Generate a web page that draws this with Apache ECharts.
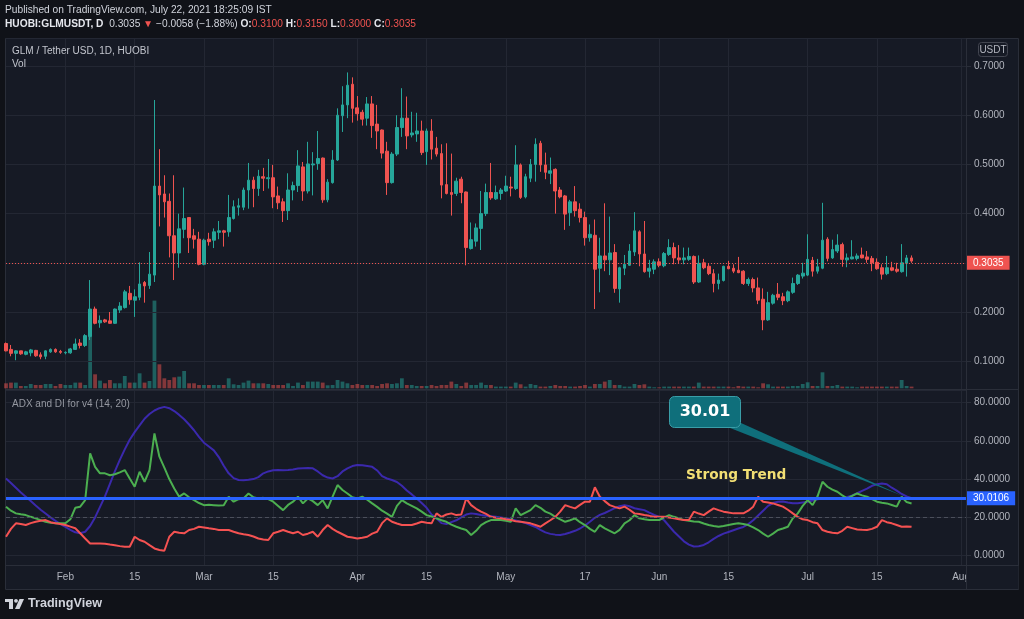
<!DOCTYPE html>
<html><head><meta charset="utf-8">
<script src="https://cdn.jsdelivr.net/npm/echarts@6/dist/echarts.min.js"></script>
<style>html,body{margin:0;padding:0;background:#101218;}#c{width:1024px;height:619px;}</style>
</head><body><div id="c"></div>
<script>
// ---------- data ----------
const firstDay = [2021, 0, 20];          // 2021-01-20
const categoryCount = 195;               // Jan 20 .. Aug 2
const xTickLabels = {
  '2021-02-01':'Feb','2021-02-15':'15','2021-03-01':'Mar','2021-03-15':'15',
  '2021-04-01':'Apr','2021-04-15':'15','2021-05-01':'May','2021-05-17':'17',
  '2021-06-01':'Jun','2021-06-15':'15','2021-07-01':'Jul','2021-07-15':'15','2021-08-01':'Aug'
};
const opens = [
0.136,0.124,0.116,0.121,0.114,0.117,0.122,0.113,0.110,0.119,
0.124,0.120,0.117,0.117,0.124,0.137,0.132,0.150,0.206,0.178,
0.184,0.182,0.177,0.204,0.209,0.238,0.224,0.230,0.260,0.254,
0.275,0.456,0.440,0.425,0.355,0.320,0.368,0.392,0.355,0.348,
0.297,0.348,0.346,0.362,0.365,0.363,0.390,0.413,0.413,0.448,
0.468,0.451,0.475,0.471,0.473,0.436,0.424,0.406,0.448,0.457,
0.495,0.446,0.499,0.502,0.513,0.428,0.463,0.509,0.599,0.621,
0.663,0.615,0.606,0.594,0.623,0.582,0.570,0.527,0.463,0.521,
0.575,0.594,0.560,0.562,0.568,0.526,0.568,0.533,0.522,0.459,
0.443,0.441,0.470,0.444,0.329,0.344,0.370,0.400,0.443,0.430,
0.441,0.446,0.454,0.451,0.499,0.434,0.472,0.500,0.543,0.499,
0.482,0.490,0.448,0.436,0.402,0.424,0.409,0.392,0.351,0.356,
0.289,0.314,0.306,0.321,0.247,0.289,0.295,0.322,0.363,0.318,
0.283,0.287,0.302,0.294,0.317,0.331,0.310,0.306,0.307,0.313,
0.261,0.300,0.293,0.278,0.258,0.264,0.293,0.289,0.285,0.283,
0.258,0.266,0.249,0.226,0.184,0.218,0.236,0.231,0.223,0.240,
0.258,0.273,0.275,0.305,0.283,0.289,0.348,0.310,0.324,0.337,
0.306,0.308,0.309,0.316,0.312,0.309,0.301,0.290,0.278,0.290,
0.287,0.282,0.299,0.310];
const highs = [
0.138,0.133,0.122,0.121,0.121,0.125,0.123,0.118,0.122,0.126,
0.126,0.123,0.120,0.127,0.146,0.145,0.155,0.265,0.211,0.193,
0.186,0.200,0.207,0.220,0.245,0.253,0.246,0.301,0.263,0.322,
0.631,0.531,0.478,0.441,0.478,0.400,0.453,0.393,0.369,0.363,
0.349,0.361,0.370,0.385,0.367,0.438,0.427,0.431,0.453,0.503,
0.475,0.489,0.493,0.511,0.499,0.455,0.431,0.482,0.465,0.529,
0.505,0.546,0.525,0.568,0.514,0.470,0.529,0.614,0.659,0.687,
0.677,0.639,0.611,0.637,0.639,0.621,0.571,0.546,0.525,0.600,
0.655,0.638,0.607,0.605,0.589,0.573,0.592,0.556,0.541,0.543,
0.522,0.473,0.475,0.445,0.382,0.380,0.446,0.461,0.503,0.457,
0.452,0.477,0.475,0.539,0.502,0.481,0.511,0.553,0.548,0.524,
0.514,0.492,0.454,0.438,0.428,0.456,0.421,0.404,0.378,0.388,
0.351,0.421,0.394,0.338,0.292,0.316,0.338,0.403,0.366,0.385,
0.306,0.307,0.309,0.322,0.348,0.341,0.336,0.331,0.331,0.315,
0.315,0.308,0.299,0.287,0.278,0.294,0.304,0.297,0.312,0.285,
0.270,0.270,0.270,0.248,0.241,0.237,0.259,0.239,0.244,0.270,
0.277,0.300,0.358,0.312,0.308,0.422,0.352,0.347,0.358,0.341,
0.319,0.346,0.319,0.331,0.324,0.314,0.309,0.297,0.314,0.302,
0.300,0.338,0.316,0.315];
const lows = [
0.120,0.110,0.102,0.113,0.112,0.110,0.109,0.104,0.104,0.117,
0.117,0.115,0.114,0.115,0.123,0.126,0.129,0.143,0.175,0.168,
0.178,0.176,0.176,0.198,0.207,0.215,0.190,0.224,0.219,0.247,
0.261,0.374,0.392,0.311,0.265,0.290,0.350,0.320,0.329,0.295,
0.295,0.335,0.330,0.348,0.333,0.353,0.388,0.396,0.407,0.410,
0.413,0.436,0.446,0.451,0.411,0.409,0.383,0.387,0.427,0.444,
0.426,0.441,0.437,0.489,0.422,0.423,0.461,0.507,0.566,0.594,
0.585,0.589,0.579,0.579,0.554,0.531,0.512,0.438,0.461,0.517,
0.556,0.531,0.555,0.546,0.519,0.499,0.510,0.516,0.431,0.439,
0.396,0.436,0.421,0.295,0.327,0.333,0.326,0.395,0.428,0.428,
0.428,0.444,0.435,0.448,0.430,0.431,0.464,0.465,0.485,0.470,
0.460,0.400,0.431,0.367,0.375,0.394,0.382,0.335,0.343,0.206,
0.240,0.283,0.275,0.239,0.219,0.275,0.294,0.314,0.293,0.280,
0.270,0.277,0.291,0.291,0.314,0.297,0.299,0.297,0.304,0.257,
0.259,0.287,0.275,0.240,0.246,0.262,0.287,0.279,0.279,0.255,
0.253,0.240,0.216,0.163,0.182,0.215,0.224,0.214,0.220,0.237,
0.255,0.268,0.273,0.272,0.278,0.287,0.303,0.308,0.320,0.292,
0.291,0.307,0.305,0.309,0.300,0.283,0.286,0.266,0.275,0.283,
0.280,0.280,0.272,0.300];
const closes = [
0.121,0.116,0.121,0.115,0.119,0.123,0.111,0.109,0.121,0.124,
0.119,0.118,0.118,0.125,0.135,0.132,0.152,0.206,0.177,0.183,
0.180,0.177,0.206,0.212,0.241,0.225,0.231,0.257,0.253,0.277,
0.456,0.438,0.424,0.355,0.320,0.369,0.390,0.351,0.348,0.297,
0.346,0.343,0.363,0.365,0.362,0.392,0.414,0.416,0.448,0.468,
0.451,0.476,0.472,0.473,0.434,0.422,0.406,0.448,0.457,0.497,
0.446,0.501,0.501,0.512,0.428,0.464,0.509,0.600,0.621,0.661,
0.614,0.603,0.592,0.623,0.579,0.568,0.523,0.463,0.521,0.575,
0.594,0.558,0.564,0.568,0.524,0.568,0.531,0.521,0.458,0.441,
0.439,0.466,0.443,0.331,0.347,0.371,0.400,0.443,0.432,0.443,
0.448,0.456,0.452,0.499,0.433,0.475,0.500,0.541,0.499,0.484,
0.487,0.446,0.434,0.399,0.424,0.406,0.392,0.351,0.358,0.287,
0.314,0.306,0.320,0.248,0.290,0.297,0.324,0.365,0.318,0.282,
0.289,0.302,0.295,0.319,0.331,0.310,0.306,0.310,0.313,0.261,
0.299,0.290,0.278,0.258,0.265,0.293,0.288,0.283,0.280,0.258,
0.266,0.249,0.224,0.184,0.219,0.234,0.230,0.223,0.241,0.258,
0.275,0.279,0.307,0.283,0.292,0.346,0.309,0.327,0.336,0.307,
0.310,0.312,0.314,0.310,0.307,0.300,0.288,0.277,0.290,0.285,
0.283,0.300,0.310,0.3035];
const volumes = [
5,5.7,5.7,2.3,2.3,4.3,3.3,3.3,4.3,4.3,
2.3,4.3,3.3,3.3,5.7,5.7,3.3,51.7,14,7.7,
5,8.3,5,5,12.3,5.7,5.7,15,5.7,7.3,
87.7,24,10,8.3,11,11.7,17.3,5,5,3.3,
3.3,3.3,3.3,3.3,3.3,10,4,3.3,5.7,7.7,
5,5,5,4.3,3.3,3.3,3.3,5,2.3,5.7,
3.3,6.7,6.7,6.7,5.7,3,3.3,8.3,6.7,5,
3.3,4.3,3.3,3.3,3.3,2.3,4.3,5,4.3,5,
10,3.3,3.3,2.3,2.3,2.3,3.3,2.3,3.3,3.3,
6.7,4.3,2.3,5.7,3.3,3.3,5.7,3.3,3.3,1.7,
1.7,1.7,1.7,5.7,4,1.7,4.3,3.3,1.7,1.7,
2.3,3.3,2.3,2.3,1.7,1.7,2.3,3.3,1.7,4.3,
4.3,6.7,8.3,3.3,3.3,1.7,1.7,4.3,3.3,4,
1.7,1,1,1.7,1.7,1.7,1.7,1.7,1.7,1.7,
5.7,1.7,1.7,1.7,1.7,1.7,1.7,1,2.3,1.7,
1.7,1.7,1,5,4,1.7,1.7,1.7,1.7,2.3,
2.3,4.3,6,2.3,2.3,16,2.3,2.3,3.3,1.7,
1.7,1.7,1,1.7,1.7,1.7,1.7,1.7,1.7,1.7,
1.7,8.3,2.3,1.7];
const adx = [
40.3,38,35.5,33,30.8,28.5,26.2,24,22,20,
18.2,16.5,15,13.5,12.2,11.7,12.5,15.5,20,25.5,
31,37.5,44,50,55.5,60.5,64.5,68,71.5,74,
75.8,77,77.7,77,75.5,73.5,71.2,68.5,65.5,62,
59,57,55,51.5,47,43,40.5,39.5,39.4,39.6,
40,41,43,44,44.6,44.7,44.6,44.7,45,45.5,
45.7,45.8,45.6,44,42,40.8,40.3,41.5,44,45.6,
46.8,47.3,47.2,46.8,46.4,44.5,41.5,40.3,39.5,38.5,
36.5,34,32,29.8,27.5,25,21.5,19.5,17,16.5,
17.5,18.5,20,21.5,22.1,21.8,21.3,20.9,20.6,20.3,
20,19.5,19,18.4,17.7,17,16,15,13.5,12.2,
11.4,11,10.8,11.3,12.1,13,14.2,15.8,17.7,19.8,
21.3,22.3,23.5,24.8,25.8,26.4,25.8,24.8,24.3,23.8,
22.5,21.3,20.3,18.5,15.5,12.5,10,7.5,5.8,4.8,
4.9,5.6,7,8.8,10.3,11.5,12.4,13.3,14.2,15,
16.5,18.5,21,23.5,26,27.5,28.2,28.3,27.8,27.4,
27.4,27.8,28.2,28.8,29.4,29.9,29.9,29.8,29.9,30.2,
30.7,31.5,32.6,33.8,35,36.5,37.3,37.7,37.3,35.5,
34,32.2,31,30.01];
const plusDI = [
25.6,23.5,22.1,21.6,21.2,20.3,19.5,18.6,17.7,17.2,
16.9,16.9,16.9,19,25,25.6,29,53.4,46.4,43,
43,42,42.5,43.5,44.7,40.3,36,43.8,38.6,44.7,
63.8,51.7,46,40,35.1,30.8,32.5,30.5,29,27.5,
26.4,26.6,26.4,26.2,26.4,30.8,28.2,29.5,29.9,32.5,
30.5,29.9,30.2,29.6,28.2,26,23.8,26.5,28.2,30.8,
27.3,29.9,28.5,26.4,29,24.7,30.8,36.9,34.3,32.5,
30.5,29.9,30.8,29.2,27.3,25.5,23.5,22,20.3,26,
29,27.3,26,24.7,23,21.2,20.5,19.5,18.5,17.7,
16.2,15.1,14.2,13.4,10.8,13,16,17.5,18.6,18.6,
18.6,18.2,17.7,24.7,21.2,22.5,23.8,26.4,25,23,
22,20.3,19,17.7,18.5,19.5,17.5,16,14,12.5,
16,14.3,13,11.7,13.5,16.9,18.5,21.2,19.5,19,
18.6,18.6,18.6,20,21.2,20.3,19.5,18.6,18.2,17.8,
17.7,16.8,16,15.5,15.1,15.5,16,16.5,16.9,16.5,
16,14.8,13.4,11.5,9.9,11.5,13.4,14.2,15.1,19.5,
22.1,26,29,26.4,31,38.6,36,34.5,33.4,31.5,
29.9,31.2,32.5,31.5,30.8,29.5,28.2,27.7,27.3,26.5,
25.6,30.8,28,27.3];
const minusDI = [
9.9,14,16.9,16.5,16,17,17.7,18.2,18.6,17.5,
16.9,16.5,16,15.2,14.3,11.7,9,6.4,6.4,6.4,
6.2,5.8,5.5,5,4.7,4.7,9.9,8.2,7.3,5.5,
3.8,3,2.6,9.9,12.5,12,11.7,13.4,14,15.1,
14.7,14.3,14,13.4,13.4,13.4,12.5,11.7,11.2,10.8,
10,9,8.5,8.2,11.7,12.5,13.4,12.5,11.7,12.5,
10.8,11.5,12.5,9.9,13.4,16,14,12.5,11.2,9.9,
9.5,9,9.4,9.9,11.5,12.5,17,19.5,17.7,16.8,
16,16,16,16.8,17.7,17.2,16.9,22.1,20.3,21.5,
22.1,21.2,21.5,29.9,26.4,24.5,23,21.8,20.3,19.8,
19.5,19,18.6,18,17.7,17.3,16.9,16,15.1,16.9,
18.5,20.3,23,26.4,25.5,24.7,26.5,28.2,28.2,35.7,
30.8,28.5,26.4,25.5,24.7,25.6,24,22.1,21.8,21.2,
20.8,20.3,20.3,20.3,20,19.5,19,18.6,18.6,23,
22,21.2,23,24.7,23.8,23,22.5,22.1,22.1,22.1,
23.5,25.6,30.8,28.2,27.8,27.3,26.5,25.6,24,22.1,
20.3,19,18.6,17.5,16.9,13.4,12.5,12,11.7,13,
15.1,14.4,13.7,13.5,13.4,14,15.1,18.6,17.5,16.9,
16,15.1,15.3,15.1];
const trendLevel = 30.0106;
const keyLevel = 20;
const calloutValue = 30.01;
const headerChange = -0.0058;
const headerChangePct = -1.88;

// ---------- build ----------
const categories = [];
for (let i = 0; i < categoryCount; i++) {
  const d = new Date(Date.UTC(firstDay[0], firstDay[1], firstDay[2]) + i * 86400000);
  categories.push(d.toISOString().slice(0, 10));
}
const n = closes.length;
const lastClose = closes[n - 1];
const candleData = opens.map((o, i) => [o, closes[i], lows[i], highs[i]]);
const volData = volumes.map((v, i) => ({
  value: v,
  itemStyle: { color: closes[i] >= opens[i] ? 'rgba(38,166,154,0.5)' : 'rgba(239,83,80,0.5)' }
}));

const F = "'Liberation Sans', Arial, sans-serif";
const GRID_C = '#232733';
const TXT = '#b2b5be';
const isTick = (idx, val) => Object.prototype.hasOwnProperty.call(xTickLabels, val);
const splitX = { show: true, interval: isTick, lineStyle: { color: GRID_C, width: 1 } };
const minus = x => (x < 0 ? '\u2212' : '+') + Math.abs(x);

function txt(x, y, text, font, fill, align) {
  return { type: 'text', z: 20, silent: true,
    style: { x: x, y: y, text: text, font: font, fill: fill,
      align: align || 'left', textAlign: align || 'left', verticalAlign: 'middle', textVerticalAlign: 'middle' } };
}

const header2 = '{b|HUOBI:GLMUSDT, D}  {n|' + lastClose.toFixed(4) + '} {r|\u25BC} {n|' +
  minus(headerChange).replace('+','') + ' (' + minus(headerChangePct) + '%)} ' +
  '{b|O:}{r|' + opens[n-1].toFixed(4) + '} {b|H:}{r|' + highs[n-1].toFixed(4) + '} ' +
  '{b|L:}{r|' + lows[n-1].toFixed(4) + '} {b|C:}{r|' + closes[n-1].toFixed(4) + '}';

const option = {
  backgroundColor: '#101218',
  animation: false,
  textStyle: { fontFamily: F },
  grid: [
    { left: 6, right: 58, top: 38, height: 351 },
    { left: 6, right: 58, top: 200, height: 188.3 },
    { left: 6, right: 58, top: 390, height: 175 }
  ],
  xAxis: [
    { type: 'category', gridIndex: 0, data: categories, boundaryGap: false,
      axisLine: { show: false }, axisTick: { show: false }, axisLabel: { show: false }, splitLine: splitX },
    { type: 'category', gridIndex: 1, data: categories, boundaryGap: false, show: false },
    { type: 'category', gridIndex: 2, data: categories, boundaryGap: false, z: 0,
      axisLine: { show: true, lineStyle: { color: '#2a2e39' } }, axisTick: { show: false },
      axisLabel: { interval: isTick, formatter: v => xTickLabels[v] || '', color: TXT, fontSize: 10, margin: 7, fontFamily: F },
      splitLine: splitX }
  ],
  yAxis: [
    { type: 'value', gridIndex: 0, position: 'right', min: 0.0435, max: 0.757, minInterval: 0.1, maxInterval: 0.1, z: 3,
      axisLine: { show: false }, axisTick: { show: true, length: 5, lineStyle: { color: '#2a2e39' } },
      axisLabel: { formatter: v => v.toFixed(4), color: TXT, fontSize: 10, margin: 8, showMinLabel: false, showMaxLabel: false, fontFamily: F },
      splitLine: { lineStyle: { color: GRID_C } } },
    { type: 'value', gridIndex: 1, min: 0, max: 188.3, show: false },
    { type: 'value', gridIndex: 2, position: 'right', min: -4.85, max: 86.5, minInterval: 20, maxInterval: 20, z: 3,
      axisLine: { show: false }, axisTick: { show: true, length: 5, lineStyle: { color: '#2a2e39' } },
      axisLabel: { formatter: v => v.toFixed(4), color: TXT, fontSize: 10, margin: 8, showMinLabel: false, showMaxLabel: false, fontFamily: F },
      splitLine: { lineStyle: { color: GRID_C } } }
  ],
  series: [
    { type: 'bar', xAxisIndex: 1, yAxisIndex: 1, data: volData, barWidth: 3.8, z: 1, silent: true },
    { type: 'candlestick', xAxisIndex: 0, yAxisIndex: 0, data: candleData, barWidth: 3.2, z: 3,
      itemStyle: { color: '#26a69a', color0: '#ef5350', borderColor: '#26a69a', borderColor0: '#ef5350', borderWidth: 1 },
      markLine: { symbol: ['none', 'none'], silent: true, animation: false,
        lineStyle: { color: '#ef5350', type: [1, 2], width: 1 },
        label: { show: true, position: 'end', distance: 1, formatter: lastClose.toFixed(4),
          backgroundColor: '#ef5350', color: '#ffffff', padding: [2, 6, 2, 6], fontSize: 10, lineHeight: 10, fontFamily: F },
        data: [{ yAxis: lastClose }] } },
    { type: 'line', xAxisIndex: 2, yAxisIndex: 2, data: adx, symbol: 'none', z: 3,
      lineStyle: { color: '#3b29ad', width: 2 }, itemStyle: { color: '#3b29ad' },
      markLine: { symbol: ['none', 'none'], silent: true, animation: false, label: { show: false },
        lineStyle: { color: '#4b4f5b', type: [4, 3], width: 1 }, data: [{ yAxis: keyLevel }] } },
    { type: 'line', xAxisIndex: 2, yAxisIndex: 2, data: plusDI, symbol: 'none', z: 3,
      lineStyle: { color: '#4caf50', width: 2 }, itemStyle: { color: '#4caf50' } },
    { type: 'line', xAxisIndex: 2, yAxisIndex: 2, data: minusDI, symbol: 'none', z: 4,
      lineStyle: { color: '#f55252', width: 2 }, itemStyle: { color: '#f55252' },
      markLine: { symbol: ['none', 'none'], silent: true, animation: false,
        lineStyle: { color: '#2962ff', type: 'solid', width: 3 },
        label: { show: true, position: 'end', distance: 1, formatter: trendLevel.toFixed(4),
          backgroundColor: '#2962ff', color: '#ffffff', padding: [2, 6, 2, 6], fontSize: 10, lineHeight: 10, fontFamily: F },
        data: [{ yAxis: trendLevel }] } }
  ],
  graphic: [
    { type: 'rect', z: -10, silent: true, shape: { x: 5.5, y: 38.5, width: 1013, height: 551 },
      style: { fill: '#161a25', stroke: '#2a2e39', lineWidth: 1 } },
    { type: 'rect', z: 1, silent: true, shape: { x: 966.5, y: 566, width: 52, height: 23 }, style: { fill: '#161a25' } },
    { type: 'line', z: 6, silent: true, shape: { x1: 966.5, y1: 38.5, x2: 966.5, y2: 589 }, style: { stroke: '#2a2e39', lineWidth: 1 } },
    { type: 'line', z: 6, silent: true, shape: { x1: 5.5, y1: 389.5, x2: 1018.5, y2: 389.5 }, style: { stroke: '#2a2e39', lineWidth: 1 } },
    { type: 'line', z: 6, silent: true, shape: { x1: 5.5, y1: 565.5, x2: 1018.5, y2: 565.5 }, style: { stroke: '#2a2e39', lineWidth: 1 } },
    // USDT tag
    { type: 'rect', z: 20, silent: true, shape: { x: 978.5, y: 42.5, width: 29, height: 14, r: 3 },
      style: { fill: 'none', stroke: '#434651', lineWidth: 1 } },
    txt(993, 50, 'USDT', '10px ' + F, TXT, 'center'),
    // headers
    txt(5, 10.5, 'Published on TradingView.com, July 22, 2021 18:25:09 IST', '10.2px ' + F, '#d1d4dc'),
    { type: 'text', z: 20, silent: true,
      style: { x: 5, y: 24.5, text: header2, verticalAlign: 'middle', textVerticalAlign: 'middle',
        font: '10.2px ' + F, fill: '#d1d4dc',
        rich: {
          b: { fontFamily: F, fontSize: 10.2, fontWeight: 'bold', fill: '#e6e8ee', color: '#e6e8ee' },
          n: { fontFamily: F, fontSize: 10.2, fill: '#d1d4dc', color: '#d1d4dc' },
          r: { fontFamily: F, fontSize: 10.2, fill: '#ef5350', color: '#ef5350' }
        } } },
    txt(12, 51, 'GLM / Tether USD, 1D, HUOBI', '10px ' + F, '#c3c6ce'),
    txt(12, 64, 'Vol', '10px ' + F, '#c3c6ce'),
    txt(12, 404, 'ADX and DI for v4 (14, 20)', '10px ' + F, '#9598a1'),
    txt(686, 475, 'Strong Trend', 'bold 13.7px "DejaVu Sans"', '#f2df74'),
    // callout
    { type: 'polygon', z: 19, silent: true, shape: { points: [[725, 426], [741, 423], [903, 496]] },
      style: { fill: '#0f6f7b' } },
    { type: 'rect', z: 19, silent: true, shape: { x: 669.5, y: 396.5, width: 71, height: 31, r: 5 },
      style: { fill: '#0f6f7b', stroke: '#3a9ea8', lineWidth: 1 } },
    txt(705, 412, calloutValue.toFixed(2), 'bold 16px "DejaVu Sans"', '#ffffff', 'center'),
    // footer logo
    { type: 'rect', z: 20, silent: true, shape: { x: 5, y: 599, width: 8, height: 3 }, style: { fill: '#d1d4dc' } },
    { type: 'rect', z: 20, silent: true, shape: { x: 9, y: 599, width: 4, height: 10 }, style: { fill: '#d1d4dc' } },
    { type: 'circle', z: 20, silent: true, shape: { cx: 16, cy: 600.8, r: 1.9 }, style: { fill: '#d1d4dc' } },
    { type: 'polygon', z: 20, silent: true, shape: { points: [[19.5, 599], [24, 599], [19.5, 609], [15, 609]] }, style: { fill: '#d1d4dc' } },
    txt(28, 604, 'TradingView', 'bold 12.6px ' + F, '#d1d4dc')
  ]
};

const chart = echarts.init(document.getElementById('c'), null, { renderer: 'canvas' });
chart.setOption(option);
</script>
</body></html>
